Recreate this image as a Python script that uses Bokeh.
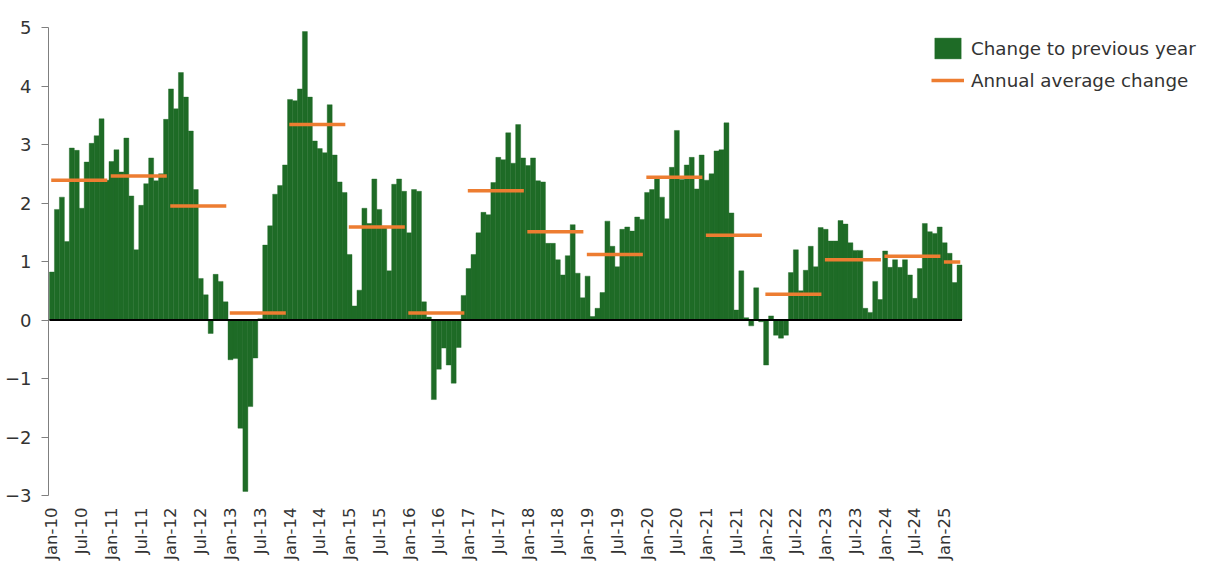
import math
from bokeh.plotting import figure
from bokeh.models import Range1d, FixedTicker, Legend, LegendItem
from bokeh.embed import file_html
from bokeh.resources import INLINE

# Year-on-year change, monthly, Jan-2010 .. Apr-2025
y2010 = [0.82, 1.89, 2.10, 1.34, 2.94, 2.90, 1.91, 2.70, 3.02, 3.15, 3.44, 2.39]
y2011 = [2.71, 2.91, 2.53, 3.11, 2.12, 1.20, 1.96, 2.33, 2.77, 2.38, 2.50, 3.43]
y2012 = [3.95, 3.61, 4.23, 3.81, 3.23, 2.23, 0.71, 0.43, -0.23, 0.78, 0.66, 0.31]
y2013 = [-0.68, -0.66, -1.85, -2.93, -1.48, -0.65, 0.02, 1.28, 1.61, 2.15, 2.30, 2.65]
y2014 = [3.77, 3.75, 3.95, 4.93, 3.81, 3.06, 2.93, 2.86, 3.68, 2.82, 2.36, 2.18]
y2015 = [1.12, 0.24, 0.51, 1.91, 1.65, 2.41, 1.89, 1.60, 0.84, 2.32, 2.41, 2.20]
y2016 = [1.49, 2.23, 2.20, 0.31, 0.05, -1.36, -0.84, -0.48, -0.77, -1.08, -0.47, 0.42]
y2017 = [0.88, 1.12, 1.49, 1.84, 1.80, 2.35, 2.78, 2.74, 3.20, 2.68, 3.34, 2.77]
y2018 = [2.64, 2.77, 2.38, 2.36, 1.31, 1.31, 1.03, 0.77, 1.10, 1.63, 0.80, 0.38]
y2019 = [0.75, 0.06, 0.20, 0.47, 1.69, 1.26, 0.91, 1.55, 1.59, 1.52, 1.76, 1.72]
y2020 = [2.18, 2.23, 2.43, 2.10, 1.73, 2.61, 3.24, 2.40, 2.65, 2.78, 2.24, 2.82]
y2021 = [2.39, 2.50, 2.89, 2.91, 3.37, 1.83, 0.17, 0.84, 0.04, -0.10, 0.55, -0.03]
y2022 = [-0.77, 0.07, -0.26, -0.31, -0.26, 0.81, 1.20, 0.50, 0.85, 1.26, 0.91, 1.58]
y2023 = [1.55, 1.35, 1.35, 1.70, 1.64, 1.32, 1.19, 1.19, 0.20, 0.13, 0.66, 0.35]
y2024 = [1.18, 0.90, 1.03, 0.90, 1.03, 0.77, 0.37, 0.88, 1.65, 1.51, 1.48, 1.59]
y2025 = [1.32, 1.14, 0.64, 0.94]

years = [y2010, y2011, y2012, y2013, y2014, y2015, y2016, y2017,
         y2018, y2019, y2020, y2021, y2022, y2023, y2024, y2025]

annual_avg = [2.39, 2.46, 1.95, 0.12, 3.34, 1.59, 0.12, 2.21,
              1.51, 1.12, 2.44, 1.45, 0.44, 1.03, 1.09, 0.99]

tick_labels = ["Jan-10", "Jul-10", "Jan-11", "Jul-11", "Jan-12", "Jul-12",
               "Jan-13", "Jul-13", "Jan-14", "Jul-14", "Jan-15", "Jul-15",
               "Jan-16", "Jul-16", "Jan-17", "Jul-17", "Jan-18", "Jul-18",
               "Jan-19", "Jul-19", "Jan-20", "Jul-20", "Jan-21", "Jul-21",
               "Jan-22", "Jul-22", "Jan-23", "Jul-23", "Jan-24", "Jul-24",
               "Jan-25"]

values = [v for yr in years for v in yr]
idx = list(range(len(values)))

GREEN = "#1E6B26"
ORANGE = "#ED7D31"
FONT = "DejaVu Sans"
TXT = "#333333"

p = figure(width=1206, height=562, output_backend="svg", toolbar_location=None,
           x_range=Range1d(-0.7, 232.8), y_range=Range1d(-3, 5),
           min_border_left=48, min_border_right=0, min_border_top=27,
           min_border_bottom=67)
p.outline_line_color = None
p.xgrid.visible = False
p.ygrid.visible = False
p.background_fill_color = "white"

bars = p.vbar(x=idx, top=values, bottom=0, width=1.0, fill_color=GREEN,
              line_color=GREEN, line_width=0.4)

# zero line
p.segment(x0=[-0.5], x1=[len(values) - 0.5], y0=[0], y1=[0],
          line_color="black", line_width=2)

# annual average segments (one per calendar year)
sx0, sx1, sy = [], [], []
start = 0
for yr, avg in zip(years, annual_avg):
    sx0.append(start - 0.5 + 0.35)
    sx1.append(start + len(yr) - 0.5 - 0.35)
    sy.append(avg)
    start += len(yr)
avg_r = p.segment(x0=sx0, x1=sx1, y0=sy, y1=sy, line_color=ORANGE, line_width=3.5)

# y axis
p.yaxis.ticker = FixedTicker(ticks=list(range(-3, 6)))
p.yaxis.axis_line_color = "#7F7F7F"
p.yaxis.major_tick_line_color = "#7F7F7F"
p.yaxis.major_tick_out = 7
p.yaxis.major_tick_in = 0
p.yaxis.minor_tick_line_color = None
p.yaxis.major_label_text_font = FONT
p.yaxis.major_label_text_font_size = "18px"
p.yaxis.major_label_text_color = TXT
p.yaxis.major_label_standoff = 10

# x axis
p.xaxis.ticker = FixedTicker(ticks=[6 * i for i in range(len(tick_labels))])
p.xaxis.major_label_overrides = {6 * i: lab for i, lab in enumerate(tick_labels)}
p.xaxis.major_label_orientation = math.pi / 2
p.xaxis.axis_line_color = None
p.xaxis.major_tick_line_color = None
p.xaxis.minor_tick_line_color = None
p.xaxis.major_label_text_font = FONT
p.xaxis.major_label_text_font_size = "16.5px"
p.xaxis.major_label_text_color = TXT
p.xaxis.major_label_standoff = 6

legend = Legend(items=[LegendItem(label="Change to previous year", renderers=[bars]),
                       LegendItem(label="Annual average change", renderers=[avg_r])],
                location=(883, 402), orientation="vertical",
                glyph_width=33, glyph_height=26, spacing=6, label_standoff=7,
                padding=0, margin=0, border_line_alpha=0, background_fill_alpha=0,
                label_text_font=FONT, label_text_font_size="18.3px",
                label_text_color=TXT)
p.add_layout(legend, "center")

open("out.html", "w").write(file_html(p, INLINE))
